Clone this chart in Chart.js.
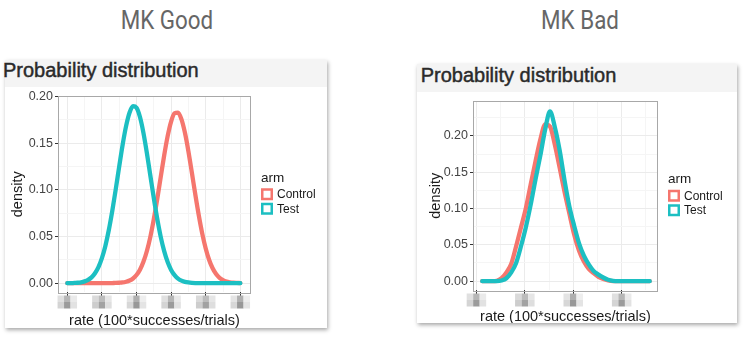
<!DOCTYPE html>
<html>
<head>
<meta charset="utf-8">
<script src="https://cdn.jsdelivr.net/npm/chart.js@4.4.1/dist/chart.umd.min.js"></script>
<style>
  body { margin: 0; width: 747px; height: 343px; background: #fff; position: relative; overflow: hidden; font-family: "Liberation Sans", Arial, sans-serif; }
  .top { position: absolute; top: 7px; font-family: Roboto, sans-serif; font-size: 26px; line-height: 26px; color: #666; white-space: nowrap; transform: translateX(-50%) scaleX(0.86); }
  .card { position: absolute; background: #fff; box-shadow: 1px 2px 4px rgba(0,0,0,0.35); }
  .head { position: absolute; left: 0; top: 0; right: 0; background: #f4f4f4; }
  .head span { position: absolute; font-size: 20px; line-height: 20px; color: #2a2a2a; -webkit-text-stroke: 0.45px #2a2a2a; white-space: nowrap; }
  canvas { position: absolute; }
</style>
</head>
<body>
<div class="top" style="left:166.5px">MK Good</div>
<div class="top" style="left:580px">MK Bad</div>

<div class="card" style="left:5px;top:60px;width:322px;height:268px">
  <div class="head" style="height:27px"><span style="left:-2px;top:0">Probability distribution</span></div>
  <canvas id="good" width="322" height="241" style="left:0;top:27px"></canvas>
</div>

<div class="card" style="left:417px;top:64px;width:320px;height:259px">
  <div class="head" style="height:28px"><span style="left:3.7px;top:1px">Probability distribution</span></div>
  <canvas id="bad" width="320" height="231" style="left:0;top:28px"></canvas>
</div>

<script>
// ---- data ----
const armLabels = ['Control', 'Test'];
const armColors = ['#F5766E', '#1CBFC2'];
const xTitle = 'rate (100*successes/trials)';
const yTitle = 'density';
const legendTitle = 'arm';

// MK Good
const goodX = [0.0, 0.1, 0.2, 0.3, 0.4, 0.5, 0.6, 0.7, 0.8, 0.9,
               1.0, 1.1, 1.2, 1.3, 1.4, 1.5, 1.6, 1.7, 1.8, 1.9,
               2.0, 2.1, 2.2, 2.3, 2.4, 2.5, 2.6, 2.7, 2.8, 2.9,
               3.0, 3.1, 3.2, 3.3, 3.4, 3.5, 3.6, 3.7, 3.8, 3.9,
               4.0, 4.1, 4.2, 4.3, 4.4, 4.5, 4.6, 4.7, 4.8, 4.9, 5.0];
const goodControl = [0, 0, 0, 0, 0, 0, 0, 0, 0, 0,
                     0, 0, 0, 0.0001, 0.0002, 0.0004, 0.0007, 0.0015, 0.0028, 0.0050,
                     0.0087, 0.0144, 0.0228, 0.0344, 0.0496, 0.0685, 0.0902, 0.1137, 0.1369, 0.1575,
                     0.1732, 0.1820, 0.1828, 0.1755, 0.1611, 0.1413, 0.1184, 0.0948, 0.0726, 0.0531,
                     0.0372, 0.0248, 0.0159, 0.0097, 0.0057, 0.0032, 0.0017, 0.0009, 0.0004, 0.0002, 0.0001];
const goodTest = [0, 0, 0.0002, 0.0004, 0.0009, 0.0019, 0.0035, 0.0062, 0.0106, 0.0172,
                  0.0268, 0.0399, 0.0569, 0.0774, 0.1006, 0.1250, 0.1485, 0.1685, 0.1829, 0.1896,
                  0.1879, 0.1780, 0.1611, 0.1394, 0.1152, 0.0911, 0.0688, 0.0496, 0.0343, 0.0226,
                  0.0142, 0.0086, 0.0049, 0.0027, 0.0014, 0.0007, 0.0003, 0.0001, 0, 0,
                  0, 0, 0, 0, 0, 0, 0, 0, 0, 0, 0];
const goodXTicks = [0, 1, 2, 3, 4, 5];
const goodXMinor = [0.5, 1.5, 2.5, 3.5, 4.5];
const goodYTicks = [0, 0.05, 0.10, 0.15, 0.20];
const goodYMinor = [0.025, 0.075, 0.125, 0.175];

// MK Bad
const badX = [0.12, 0.22, 0.32, 0.42, 0.52, 0.62, 0.72, 0.82, 0.92, 1.02,
              1.12, 1.22, 1.32, 1.42, 1.52, 1.62, 1.72, 1.82, 1.92, 2.02,
              2.12, 2.22, 2.32, 2.42, 2.52, 2.62, 2.72, 2.82, 2.92, 3.02,
              3.12, 3.22, 3.32, 3.42, 3.52, 3.58];
const badControl = [0, 0, 0, 0.0005, 0.004, 0.012, 0.024, 0.048, 0.074, 0.100,
                    0.133, 0.165, 0.195, 0.216, 0.213, 0.188, 0.156, 0.123, 0.093, 0.064,
                    0.042, 0.027, 0.017, 0.011, 0.006, 0.003, 0.001, 0, 0, 0,
                    0, 0, 0, 0, 0, 0];
const badTest = [0, 0, 0, 0, 0.0008, 0.004, 0.012, 0.025, 0.048, 0.074,
                 0.105, 0.140, 0.173, 0.209, 0.234, 0.212, 0.180, 0.139, 0.103, 0.076,
                 0.052, 0.035, 0.023, 0.014, 0.009, 0.005, 0.002, 0.0005, 0, 0,
                 0, 0, 0, 0, 0, 0];
const badXTicks = [0, 1, 2, 3];
const badXMinor = [0.5, 1.5, 2.5, 3.5];
const badYTicks = [0, 0.05, 0.10, 0.15, 0.20];
const badYMinor = [0.025, 0.075, 0.125, 0.175, 0.225];

// ---- styling ----
Chart.defaults.font.family = '"Liberation Sans", Arial, sans-serif';
Chart.defaults.color = '#444';
const MAJOR_GRID = '#ebebeb';
const MINOR_GRID = '#f5f5f5';
const TITLE_FONT = { size: 14.5, lineHeight: 1 };
// gray levels of the pixelated (hidden) x tick labels: [top row, bottom row]
const BLUR_SHADES = [
  [[224, 182, 234], [212, 155, 226]],
  [[218, 188, 230], [205, 162, 222]],
  [[228, 175, 238], [215, 152, 228]]
];

function tickList(majors, minors) {
  return majors.map(v => ({ value: v }))
    .concat(minors.map(v => ({ value: v, minor: true })))
    .sort((a, b) => a.value - b.value);
}

const isMinor = g => g.tick && g.tick.minor;

// ggplot panel border
const panelFrame = {
  id: 'panelFrame',
  afterDatasetsDraw(chart) {
    const { ctx, chartArea: a } = chart;
    ctx.save();
    ctx.strokeStyle = '#a8a8a8';
    ctx.lineWidth = 1;
    ctx.strokeRect(Math.round(a.left) - 0.5, Math.round(a.top) - 0.5,
                   Math.round(a.right - a.left) + 1, Math.round(a.bottom - a.top) + 1);
    ctx.restore();
  }
};

// pixelated tick labels under the x axis
const blurredTicks = {
  id: 'blurredTicks',
  afterDraw(chart, args, opts) {
    const { ctx, chartArea, scales: { x } } = chart;
    const bw = 6.5, bh = 6.5;
    const y0 = chartArea.bottom + 3.5;
    ctx.save();
    opts.ticks.forEach((v, i) => {
      const cx = x.getPixelForValue(v);
      const shades = BLUR_SHADES[i % BLUR_SHADES.length];
      shades.forEach((row, r) => {
        row.forEach((g, c) => {
          ctx.fillStyle = `rgb(${g},${g},${g})`;
          ctx.fillRect(cx - 1.5 * bw + c * bw, y0 + r * bh, bw, bh);
        });
      });
    });
    ctx.restore();
  }
};

// ggplot-like legend (title + hollow key boxes)
const armLegend = {
  id: 'armLegend',
  afterDraw(chart) {
    const { ctx, chartArea: a } = chart;
    const x0 = a.right + 11;
    const cy = (a.top + a.bottom) / 2;
    ctx.save();
    ctx.textBaseline = 'middle';
    ctx.textAlign = 'left';
    ctx.fillStyle = '#1a1a1a';
    ctx.font = '13.5px "Liberation Sans", Arial, sans-serif';
    ctx.fillText(legendTitle, x0, cy - 16);
    ctx.font = '12px "Liberation Sans", Arial, sans-serif';
    chart.data.datasets.forEach((ds, i) => {
      const by = cy - 6 + i * 14.5;
      ctx.fillStyle = '#fff';
      ctx.fillRect(x0, by, 12, 12);
      ctx.strokeStyle = ds.borderColor;
      ctx.lineWidth = 2.5;
      ctx.strokeRect(x0 + 1.25, by + 1.25, 9.5, 9.5);
      ctx.fillStyle = '#1a1a1a';
      ctx.fillText(ds.label, x0 + 16, by + 6.5);
    });
    ctx.restore();
  }
};

function makeChart(id, c) {
  const ctx = document.getElementById(id).getContext('2d');
  return new Chart(ctx, {
    type: 'line',
    data: {
      datasets: [
        { label: armLabels[0], data: c.x.map((x, i) => ({ x: x, y: c.control[i] })), borderColor: armColors[0], order: 1 },
        { label: armLabels[1], data: c.x.map((x, i) => ({ x: x, y: c.test[i] })), borderColor: armColors[1], order: 0 }
      ]
    },
    options: {
      responsive: false,
      animation: false,
      devicePixelRatio: 1,
      layout: { padding: c.padding },
      elements: {
        point: { radius: 0 },
        line: { borderWidth: 4.3, cubicInterpolationMode: 'monotone', borderCapStyle: 'round', borderJoinStyle: 'round', fill: false }
      },
      plugins: {
        legend: { display: false },
        tooltip: { enabled: false },
        blurredTicks: { ticks: c.xTicks }
      },
      scales: {
        x: {
          type: 'linear',
          min: c.xMin,
          max: c.xMax,
          afterFit: s => { s.height = c.xH; },
          afterBuildTicks: s => { s.ticks = tickList(c.xTicks, c.xMinor); },
          ticks: { autoSkip: false, maxRotation: 0, callback: () => '' },
          grid: { color: g => isMinor(g) ? MINOR_GRID : MAJOR_GRID, tickColor: g => isMinor(g) ? 'rgba(0,0,0,0)' : '#333', tickLength: 4 },
          border: { display: false },
          title: { display: true, text: xTitle, color: '#1a1a1a', font: TITLE_FONT, padding: { top: 0, bottom: c.xTitlePad } }
        },
        y: {
          min: c.yMin,
          max: c.yMax,
          afterFit: s => { s.width = c.yW; },
          afterBuildTicks: s => { s.ticks = tickList(c.yTicks, c.yMinor); },
          ticks: {
            autoSkip: false,
            padding: 2,
            color: '#444',
            font: { size: 12.5 },
            callback: (v, i, ticks) => ticks[i].minor ? '' : v.toFixed(2)
          },
          grid: { color: g => isMinor(g) ? MINOR_GRID : MAJOR_GRID, tickColor: g => isMinor(g) ? 'rgba(0,0,0,0)' : '#333', tickLength: 4 },
          border: { display: false },
          title: { display: true, text: yTitle, color: '#1a1a1a', font: TITLE_FONT, padding: { top: c.yTitlePad, bottom: 0 } }
        }
      }
    },
    plugins: [panelFrame, blurredTicks, armLegend]
  });
}

makeChart('good', {
  x: goodX, control: goodControl, test: goodTest,
  xTicks: goodXTicks, xMinor: goodXMinor, yTicks: goodYTicks, yMinor: goodYMinor,
  xMin: -0.24, xMax: 5.28, yMin: -0.0095, yMax: 0.2,
  padding: { top: 7, right: 77, bottom: 0, left: 0 },
  yW: 54, xH: 36, yTitlePad: 5.5, xTitlePad: 0
});

makeChart('bad', {
  x: badX, control: badControl, test: badTest,
  xTicks: badXTicks, xMinor: badXMinor, yTicks: badYTicks, yMinor: badYMinor,
  xMin: -0.05, xMax: 3.73, yMin: -0.0122, yMax: 0.2475,
  padding: { top: 6, right: 80, bottom: 0, left: 0 },
  yW: 57, xH: 33, yTitlePad: 12, xTitlePad: -1.5
});
</script>
</body>
</html>
